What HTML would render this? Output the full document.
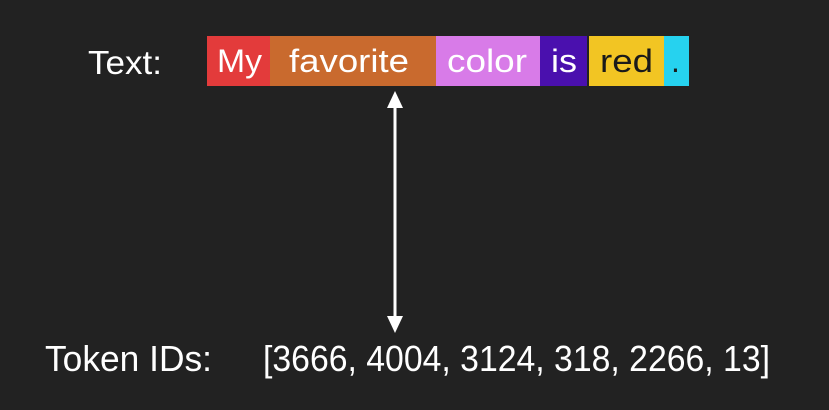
<!DOCTYPE html>
<html><head><style>
html,body{margin:0;padding:0;background:#222222;}
</style></head><body>
<svg width="829" height="410" viewBox="0 0 829 410" xmlns="http://www.w3.org/2000/svg" style="display:block">
<rect width="829" height="410" fill="#222222"/>
<g font-family="Liberation Sans, sans-serif" fill="#ffffff">
<text x="88" y="74" font-size="33" textLength="74" lengthAdjust="spacingAndGlyphs">Text:</text>
<rect x="207" y="36" width="63" height="50" fill="#e33b3b"/>
<rect x="270" y="36" width="166" height="50" fill="#c96a2e"/>
<rect x="436" y="36" width="104" height="50" fill="#d87be8"/>
<rect x="540" y="36" width="47" height="50" fill="#4a10ae"/>
<rect x="589" y="36" width="75" height="50" fill="#f2c523"/>
<rect x="664" y="36" width="25" height="50" fill="#26d2ef"/>
<text x="217" y="72" font-size="32" textLength="45" lengthAdjust="spacingAndGlyphs">My</text>
<text x="289" y="72" font-size="32" textLength="120" lengthAdjust="spacingAndGlyphs">favorite</text>
<text x="447" y="72" font-size="32" textLength="80" lengthAdjust="spacingAndGlyphs">color</text>
<text x="551" y="72" font-size="32" textLength="26" lengthAdjust="spacingAndGlyphs">is</text>
<text x="600" y="72" font-size="32" fill="#1a1a1a" textLength="53" lengthAdjust="spacingAndGlyphs">red</text>
<text x="671" y="72" font-size="32" fill="#1a1a1a">.</text>
<line x1="395" y1="104" x2="395" y2="320" stroke="#ffffff" stroke-width="3"/>
<polygon points="395,91 387,108 403,108" fill="#ffffff"/>
<polygon points="395,333 387,316 403,316" fill="#ffffff"/>
<text x="45" y="371" font-size="36" textLength="167" lengthAdjust="spacingAndGlyphs">Token IDs:</text>
<text x="263" y="371" font-size="36" textLength="507" lengthAdjust="spacingAndGlyphs">[3666, 4004, 3124, 318, 2266, 13]</text>
</g>
</svg>
</body></html>
